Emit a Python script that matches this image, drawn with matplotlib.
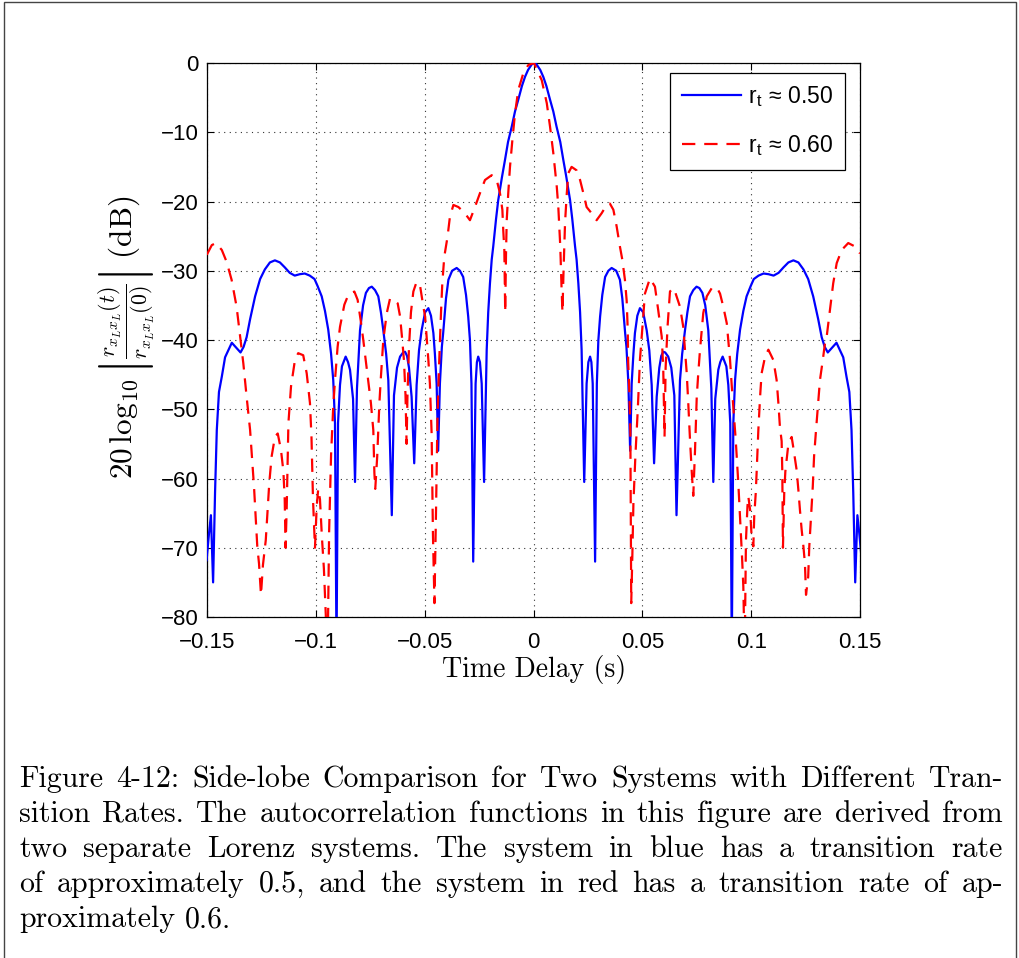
import matplotlib
matplotlib.use('Agg')
import matplotlib.pyplot as plt
from matplotlib.patches import Rectangle

# ---------------- data ----------------
blue_t = [-0.1502, -0.1491, -0.1482, -0.1472, -0.1463, -0.1455, -0.1445, -0.1432, -0.1417, -0.1386,
          -0.1363, -0.1346, -0.1332, -0.1318, -0.1302, -0.1279, -0.1256, -0.1234, -0.1211, -0.1188,
          -0.1165, -0.1143, -0.1120, -0.1097, -0.1074, -0.1051, -0.1028, -0.1006, -0.0992, -0.0973,
          -0.0958, -0.0943, -0.0930, -0.0920, -0.0912, -0.0905, -0.0898, -0.0889, -0.0880, -0.0863,
          -0.0852, -0.0843, -0.0829, -0.0820, -0.0811, -0.0797, -0.0783, -0.0770, -0.0756, -0.0743,
          -0.0728, -0.0713, -0.0701, -0.0690, -0.0677, -0.0667, -0.0651, -0.0641, -0.0627, -0.0613,
          -0.0599, -0.0590, -0.0581, -0.0572, -0.0560, -0.0548, -0.0537, -0.0526, -0.0514, -0.0498,
          -0.0483, -0.0471, -0.0460, -0.0453, -0.0445, -0.0438, -0.0430, -0.0421, -0.0415, -0.0402,
          -0.0391, -0.0374, -0.0353, -0.0338, -0.0323, -0.0310, -0.0300, -0.0292, -0.0285, -0.0277,
          -0.0266, -0.0260, -0.0254, -0.0246, -0.0238, -0.0227, -0.0215, -0.0208, -0.0200, -0.0192,
          -0.0185, -0.0172, -0.0162, -0.0145, -0.0131, -0.0117, -0.0100, -0.0085, -0.0070, -0.0053,
          -0.0039, -0.0025, -0.0008, 0.0003,
          0.0014, 0.0031, 0.0045, 0.0059, 0.0076, 0.0091, 0.0106, 0.0123, 0.0137, 0.0151,
          0.0168, 0.0178, 0.0191, 0.0198, 0.0206, 0.0214, 0.0221, 0.0233, 0.0244, 0.0252,
          0.0260, 0.0266, 0.0272, 0.0283, 0.0291, 0.0298, 0.0306, 0.0316, 0.0329, 0.0344,
          0.0359, 0.0380, 0.0397, 0.0408, 0.0421, 0.0427, 0.0436, 0.0444, 0.0451, 0.0459,
          0.0466, 0.0477, 0.0489, 0.0504, 0.0520, 0.0532, 0.0543, 0.0554, 0.0566, 0.0578,
          0.0587, 0.0596, 0.0605, 0.0619, 0.0633, 0.0647, 0.0657, 0.0673, 0.0683, 0.0696,
          0.0707, 0.0719, 0.0734, 0.0749, 0.0762, 0.0776, 0.0789, 0.0803, 0.0817, 0.0826,
          0.0835, 0.0849, 0.0858, 0.0869, 0.0886, 0.0895, 0.0904, 0.0911, 0.0918, 0.0926,
          0.0936, 0.0949, 0.0964, 0.0979, 0.0998, 0.1012, 0.1034, 0.1057, 0.1080, 0.1103,
          0.1126, 0.1149, 0.1171, 0.1194, 0.1217, 0.1240, 0.1262, 0.1285, 0.1308, 0.1324,
          0.1338, 0.1352, 0.1369, 0.1392, 0.1423, 0.1438, 0.1451, 0.1461, 0.1469, 0.1478,
          0.1488, 0.1497, 0.1508]
blue_db = [-71.8, -68.0, -65.3, -75.0, -62.0, -53.0, -47.5, -45.3, -42.5, -40.4,
           -41.2, -41.8, -41.0, -39.6, -37.0, -33.7, -31.2, -29.8, -28.8, -28.5,
           -28.8, -29.5, -30.3, -30.7, -30.5, -30.4, -30.7, -31.2, -32.2, -33.7,
           -35.8, -38.5, -42.0, -45.8, -52.0, -85.0, -52.0, -46.5, -43.8, -42.4,
           -43.2, -44.3, -48.5, -60.5, -47.0, -38.6, -35.0, -33.2, -32.5, -32.3,
           -32.8, -33.7, -36.0, -38.6, -42.0, -45.8, -65.3, -48.0, -44.0, -42.4,
           -41.8, -41.7, -42.3, -44.0, -48.2, -57.8, -46.5, -41.5, -38.6, -36.0,
           -35.4, -36.5, -39.0, -42.0, -46.3, -56.0, -46.3, -41.0, -39.0, -34.0,
           -31.3, -30.0, -29.6, -30.0, -30.9, -33.5, -36.6, -40.0, -46.3, -72.0,
           -46.3, -43.2, -42.4, -43.2, -46.3, -60.5, -41.4, -36.0, -31.8, -28.4,
           -26.5, -22.5, -19.8, -16.5, -14.0, -11.4, -9.2, -7.0, -5.3, -3.3,
           -2.0, -1.0, -0.2, 0.0,
           -0.2, -1.0, -2.0, -3.3, -5.3, -7.0, -9.2, -11.4, -14.0, -16.5,
           -19.8, -22.5, -26.5, -28.4, -31.8, -36.0, -41.4, -60.5, -46.3, -43.2,
           -42.4, -43.2, -46.3, -72.0, -46.3, -40.0, -36.6, -33.5, -30.9, -30.0,
           -29.6, -30.0, -31.3, -34.0, -39.0, -41.0, -46.3, -56.0, -46.3, -42.0,
           -39.0, -36.5, -35.4, -36.0, -38.6, -41.5, -46.5, -57.8, -48.2, -44.0,
           -42.3, -41.7, -41.8, -42.4, -44.0, -48.0, -65.3, -45.8, -42.0, -38.6,
           -36.0, -33.7, -32.8, -32.3, -32.5, -33.2, -35.0, -38.6, -47.0, -60.5,
           -48.5, -44.3, -43.2, -42.4, -43.8, -46.5, -52.0, -85.0, -52.0, -45.8,
           -42.0, -38.5, -35.8, -33.7, -32.2, -31.2, -30.7, -30.4, -30.5, -30.7,
           -30.3, -29.5, -28.8, -28.5, -28.8, -29.8, -31.2, -33.7, -37.0, -39.6,
           -41.0, -41.8, -41.2, -40.4, -42.5, -45.3, -47.5, -53.0, -62.0, -75.0,
           -65.3, -68.0, -71.8]

red_t = [-0.1501, -0.1478, -0.1459, -0.1432, -0.1410, -0.1387, -0.1364, -0.1348, -0.1333, -0.1318,
         -0.1302, -0.1284, -0.1269, -0.1261, -0.1252, -0.1243, -0.1230, -0.1214, -0.1203, -0.1188,
         -0.1175, -0.1160, -0.1149, -0.1143, -0.1139, -0.1134, -0.1126, -0.1114, -0.1096, -0.1081,
         -0.1058, -0.1042, -0.1027, -0.1020, -0.1013, -0.1004, -0.0996, -0.0989, -0.0981, -0.0972,
         -0.0963, -0.0954, -0.0946, -0.0939, -0.0930, -0.0920, -0.0912, -0.0900, -0.0889, -0.0869,
         -0.0851, -0.0823, -0.0808, -0.0792, -0.0782, -0.0771, -0.0762, -0.0747, -0.0736, -0.0731,
         -0.0727, -0.0718, -0.0708, -0.0701, -0.0690, -0.0674, -0.0659, -0.0644, -0.0624, -0.0613,
         -0.0603, -0.0595, -0.0588, -0.0583, -0.0579, -0.0572, -0.0563, -0.0552, -0.0537, -0.0521,
         -0.0506, -0.0498, -0.0491, -0.0483, -0.0476, -0.0468, -0.0462, -0.0455, -0.0448, -0.0441,
         -0.0433, -0.0425, -0.0419, -0.0410, -0.0395, -0.0384, -0.0368, -0.0345, -0.0315, -0.0292,
         -0.0269, -0.0246, -0.0223, -0.0192, -0.0169, -0.0154, -0.0143, -0.0139, -0.0134, -0.0130,
         -0.0126, -0.0123, -0.0116, -0.0108, -0.0097, -0.0085, -0.0070, -0.0047, -0.0024, 0.0002,
         0.0038, 0.0061, 0.0076, 0.0091, 0.0107, 0.0114, 0.0123, 0.0129, 0.0133, 0.0138,
         0.0145, 0.0153, 0.0160, 0.0175, 0.0198, 0.0214, 0.0229, 0.0244, 0.0267, 0.0290,
         0.0313, 0.0336, 0.0351, 0.0367, 0.0382, 0.0397, 0.0408, 0.0420, 0.0428, 0.0433,
         0.0435, 0.0440, 0.0445, 0.0449, 0.0454, 0.0459, 0.0468, 0.0479, 0.0489, 0.0497,
         0.0512, 0.0535, 0.0558, 0.0573, 0.0589, 0.0596, 0.0602, 0.0607, 0.0616, 0.0627,
         0.0641, 0.0650, 0.0673, 0.0688, 0.0704, 0.0711, 0.0719, 0.0727, 0.0734, 0.0742,
         0.0750, 0.0757, 0.0765, 0.0780, 0.0796, 0.0819, 0.0842, 0.0857, 0.0872, 0.0888,
         0.0903, 0.0911, 0.0921, 0.0929, 0.0941, 0.0952, 0.0958, 0.0964, 0.0970, 0.0976,
         0.0983, 0.0987, 0.0995, 0.1002, 0.1010, 0.1014, 0.1021, 0.1025, 0.1033, 0.1041,
         0.1048, 0.1064, 0.1079, 0.1102, 0.1117, 0.1125, 0.1132, 0.1140, 0.1143, 0.1146,
         0.1152, 0.1157, 0.1163, 0.1171, 0.1186, 0.1193, 0.1209, 0.1217, 0.1224, 0.1232,
         0.1240, 0.1247, 0.1252, 0.1262, 0.1267, 0.1275, 0.1283, 0.1289, 0.1298, 0.1308,
         0.1316, 0.1329, 0.1339, 0.1347, 0.1362, 0.1377, 0.1393, 0.1416, 0.1446, 0.1477,
         0.1500]
red_db = [-27.7, -26.3, -26.0, -27.0, -28.7, -31.3, -35.2, -39.5, -43.4, -48.2,
          -53.0, -61.2, -69.8, -72.3, -76.8, -72.5, -68.9, -60.7, -56.8, -54.0,
          -53.5, -55.9, -59.0, -63.0, -70.0, -64.5, -52.0, -46.7, -42.9, -41.9,
          -42.2, -44.8, -49.1, -54.0, -63.0, -70.0, -64.0, -61.5, -63.0, -68.5,
          -73.0, -80.0, -86.0, -67.7, -56.6, -49.6, -45.8, -41.0, -38.1, -34.9,
          -33.5, -33.0, -34.2, -37.6, -40.0, -42.9, -45.3, -49.1, -53.0, -59.2,
          -61.5, -56.8, -49.1, -45.3, -40.0, -36.1, -34.0, -34.2, -34.7, -36.6,
          -40.0, -43.0, -48.0, -55.0, -48.0, -41.0, -36.0, -33.0, -31.6, -32.2,
          -35.2, -36.6, -39.5, -42.9, -46.3, -53.5, -68.0, -78.0, -65.0, -51.0,
          -42.9, -36.1, -31.8, -28.0, -25.1, -22.2, -20.5, -20.8, -21.7, -22.7,
          -20.8, -18.8, -16.9, -16.2, -16.9, -18.8, -21.2, -24.1, -27.0, -36.0,
          -27.0, -22.7, -18.8, -15.0, -11.1, -7.3, -3.9, -1.5, -0.3, 0.0,
          -2.5, -5.8, -9.2, -13.0, -17.9, -20.8, -26.5, -32.6, -36.0, -30.0,
          -23.0, -18.8, -15.9, -15.0, -15.5, -16.9, -18.8, -20.8, -21.7, -22.7,
          -21.7, -20.5, -20.3, -21.2, -23.6, -26.5, -28.4, -31.3, -34.3, -38.6,
          -43.2, -47.2, -53.3, -78.0, -71.3, -63.6, -56.8, -50.1, -42.9, -39.5,
          -33.3, -31.1, -32.3, -35.7, -39.5, -44.0, -54.0, -44.0, -38.0, -33.0,
          -32.5, -33.0, -35.2, -38.1, -44.8, -49.1, -54.4, -59.0, -62.5, -56.0,
          -48.2, -44.8, -41.4, -36.1, -33.7, -32.5, -32.4, -33.3, -35.2, -37.6,
          -42.9, -46.7, -51.0, -54.4, -60.7, -67.4, -71.3, -75.6, -86.0, -69.0,
          -64.0, -62.6, -64.5, -68.3, -69.8, -65.5, -62.1, -59.2, -53.0, -48.2,
          -44.8, -42.4, -41.4, -42.9, -45.8, -49.1, -52.5, -54.6, -59.0, -70.0,
          -62.0, -59.0, -57.3, -55.0, -54.0, -55.4, -58.8, -61.7, -64.5, -67.4,
          -69.8, -72.3, -76.8, -74.2, -69.8, -65.5, -61.2, -56.8, -53.0, -49.1,
          -45.8, -42.9, -40.5, -39.5, -35.7, -31.8, -28.9, -27.0, -26.0, -26.5,
          -27.5]

series_labels = [r'r$_{\mathregular{t}}$ ≈ 0.50', r'r$_{\mathregular{t}}$ ≈ 0.60']

x_ticks = [-0.15, -0.1, -0.05, 0, 0.05, 0.1, 0.15]
x_tick_labels = ['\u22120.15', '\u22120.1', '\u22120.05', '0', '0.05', '0.1', '0.15']
y_ticks = [0, -10, -20, -30, -40, -50, -60, -70, -80]
y_tick_labels = ['0', '\u221210', '\u221220', '\u221230', '\u221240', '\u221250', '\u221260', '\u221270', '\u221280']

x_label = 'Time Delay (s)'
y_label = r'$20\,\log_{10}\left|\frac{r_{x_Lx_L}(t)}{r_{x_Lx_L}(0)}\right|\;\mathrm{(dB)}$'

caption_lines = [
    'Figure 4-12: Side-lobe Comparison for Two Systems with Different Tran-',
    'sition Rates. The autocorrelation functions in this figure are derived from',
    'two separate Lorenz systems. The system in blue has a transition rate',
    'of approximately 0.5, and the system in red has a transition rate of ap-',
    'proximately 0.6.',
]

# ---------------- figure ----------------
plt.rcParams['mathtext.fontset'] = 'cm'
plt.rcParams['font.family'] = ['Liberation Sans', 'DejaVu Sans']

W, H = 1019, 958
fig = plt.figure(figsize=(W / 100, H / 100), dpi=100)
fig.patch.set_facecolor('white')

ax = fig.add_axes([207 / W, 1 - 617 / H, (860 - 207) / W, (617 - 63) / H])
ax.plot(blue_t, blue_db, color='#0000ff', lw=1.6, label=series_labels[0], zorder=3)
ax.plot(red_t, red_db, color='#ff0000', lw=1.6, dashes=(6, 4), label=series_labels[1], zorder=3)

ax.set_xlim(-0.15, 0.15)
ax.set_ylim(-80, 0)
ax.set_xticks(x_ticks)
ax.set_xticklabels(x_tick_labels)
ax.set_yticks(y_ticks)
ax.set_yticklabels(y_tick_labels)
ax.tick_params(direction='in', top=True, right=True, length=5, width=0.8,
               labelsize=16, colors='black')
ax.tick_params(axis='x', pad=11)
ax.tick_params(axis='y', pad=6)
ax.grid(True, color='black', linestyle=(0, (1, 4)), linewidth=0.8, alpha=0.8)
for s in ax.spines.values():
    s.set_linewidth(0.9)

leg = ax.legend(loc='upper right', bbox_to_anchor=(845 / W, 1 - 73 / H),
                bbox_transform=fig.transFigure, borderaxespad=0, fontsize=16.5,
                frameon=True, fancybox=False, framealpha=1, edgecolor='black',
                borderpad=0.5, handlelength=2.6, handletextpad=0.3, labelspacing=1.05)
leg.get_frame().set_linewidth(0.9)

fig.text(534 / W, 1 - 670 / H, x_label, family=['cmr10'], fontsize=20,
         ha='center', va='center')
fig.text(127 / W, 1 - 337 / H, y_label, fontsize=22.5, rotation=90,
         ha='center', va='center')

# justified caption
renderer = fig.canvas.get_renderer()
cap_left, cap_right = 19, 1003
baselines = [787, 822, 857, 892, 927]
cap_size = 21.5
for i, line in enumerate(caption_lines):
    yb = 1 - baselines[i] / H
    words = line.split(' ')
    texts = [fig.text(0, yb, w_, family=['cmr10'], fontsize=cap_size, va='baseline', ha='left')
             for w_ in words]
    widths = [t.get_window_extent(renderer).width for t in texts]
    if i < len(caption_lines) - 1:
        gap = (cap_right - cap_left - sum(widths)) / (len(words) - 1)
    else:
        gap = 10
    x = cap_left
    for t, wd in zip(texts, widths):
        t.set_x(x / W)
        x += wd + gap

# outer frame
fig.patches.append(Rectangle((3.5 / W, -0.05), (1016 - 3.5) / W, 1.05 - 2.5 / H,
                             transform=fig.transFigure, fill=False,
                             edgecolor='#444444', lw=1.0))

fig.savefig('out.png', dpi=100)
